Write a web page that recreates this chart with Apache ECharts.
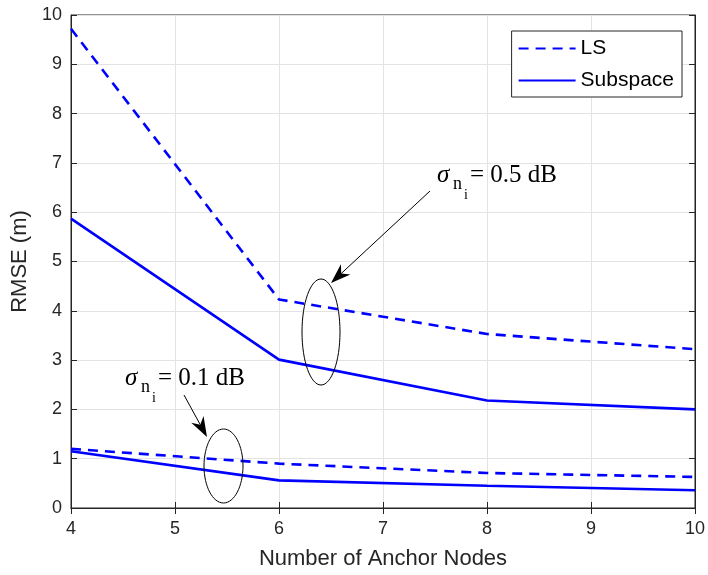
<!DOCTYPE html>
<html>
<head>
<meta charset="utf-8">
<script src="https://cdn.jsdelivr.net/npm/echarts@6/dist/echarts.min.js"></script>
<style>
  html, body { margin: 0; padding: 0; background: #fff; }
  #main { width: 708px; height: 575px; }
</style>
</head>
<body>
<div id="main"></div>
<script>
var anchors = [4, 6, 8, 10];
// sigma = 0.5 dB
var ls_05 = [9.72, 4.23, 3.53, 3.22];
var sub_05 = [5.87, 3.01, 2.18, 2.0];
// sigma = 0.1 dB
var ls_01 = [1.2, 0.9, 0.71, 0.63];
var sub_01 = [1.15, 0.56, 0.45, 0.36];

var dom = document.getElementById('main');
var myChart = echarts.init(dom);

function pairs(xs, ys) {
    var out = [];
    for (var i = 0; i < xs.length; i++) out.push([xs[i], ys[i]]);
    return out;
}

var axisFont = { fontFamily: 'Liberation Sans', fontSize: 18, color: '#262626' };

function lineSeries(name, data, dashed) {
    return {
        name: name,
        type: 'line',
        data: pairs(anchors, data),
        symbol: 'none',
        lineStyle: { color: '#0000ff', width: 2.6, type: dashed ? [10, 7] : 'solid' },
        itemStyle: { color: '#0000ff' },
        z: 5
    };
}

var option = {
    animation: false,
    grid: { left: 71, right: 11, top: 15, bottom: 66, show: true, borderColor: '#262626', borderWidth: 1 },
    legend: {
        orient: 'vertical',
        right: 26,
        top: 31,
        data: ['LS', 'Subspace'],
        backgroundColor: '#fff',
        borderColor: '#262626',
        borderWidth: 1,
        padding: [7, 8, 6, 6],
        itemGap: 11,
        itemWidth: 57,
        itemHeight: 14,
        itemStyle: { opacity: 0 },
        textStyle: { fontFamily: 'Liberation Sans', fontSize: 21, color: '#000' }
    },
    xAxis: [{
        type: 'value', min: 4, max: 10, interval: 1,
        name: 'Number of Anchor Nodes', nameLocation: 'middle', nameGap: 40,
        nameTextStyle: { fontFamily: 'Liberation Sans', fontSize: 22, color: '#262626' },
        axisLine: { show: true, lineStyle: { color: '#262626' } },
        axisTick: { show: true, inside: true, length: 6, lineStyle: { color: '#262626' } },
        axisLabel: Object.assign({ margin: 12 }, axisFont),
        splitLine: { show: true, lineStyle: { color: '#e3e3e3', width: 1 } }
    }, {
        type: 'value', min: 4, max: 10, interval: 1, position: 'top',
        axisLine: { show: true, lineStyle: { color: '#262626' } },
        axisTick: { show: true, inside: true, length: 6, lineStyle: { color: '#262626' } },
        axisLabel: { show: false }, splitLine: { show: false }
    }],
    yAxis: [{
        type: 'value', min: 0, max: 10, interval: 1,
        name: 'RMSE (m)', nameLocation: 'middle', nameGap: 37,
        nameTextStyle: { fontFamily: 'Liberation Sans', fontSize: 22, color: '#262626' },
        axisLine: { show: true, lineStyle: { color: '#262626' } },
        axisTick: { show: true, inside: true, length: 6, lineStyle: { color: '#262626' } },
        axisLabel: Object.assign({ margin: 9 }, axisFont),
        splitLine: { show: true, lineStyle: { color: '#e3e3e3', width: 1 } }
    }, {
        type: 'value', min: 0, max: 10, interval: 1, position: 'right',
        axisLine: { show: true, lineStyle: { color: '#262626' } },
        axisTick: { show: true, inside: true, length: 6, lineStyle: { color: '#262626' } },
        axisLabel: { show: false }, splitLine: { show: false }
    }],
    series: [
        lineSeries('LS', ls_05, true),
        lineSeries('Subspace', sub_05, false),
        lineSeries('LS', ls_01, true),
        lineSeries('Subspace', sub_01, false)
    ]
};
myChart.setOption(option);

// annotations (ellipses, arrows, sigma labels)
function arrow(x1, y1, x2, y2) {
    var ang = Math.atan2(y2 - y1, x2 - x1);
    var L = 20, W = 7;
    var bx = x2 - L * Math.cos(ang), by = y2 - L * Math.sin(ang);
    var mx = x2 - 0.7 * L * Math.cos(ang), my = y2 - 0.7 * L * Math.sin(ang);
    var px = -Math.sin(ang) * W, py = Math.cos(ang) * W;
    return [
        { type: 'line', shape: { x1: x1, y1: y1, x2: mx, y2: my }, style: { stroke: '#000', lineWidth: 1 }, z: 20 },
        { type: 'polygon', shape: { points: [[x2, y2], [bx + px, by + py], [mx, my], [bx - px, by - py]] }, style: { fill: '#000' }, z: 20 }
    ];
}

function sigmaLabel(x, base, val) {
    return [
        { type: 'text', x: x, y: base, style: { text: 'σ', font: 'italic 25px "Liberation Serif"', fill: '#000', textVerticalAlign: 'alphabetic' }, z: 20 },
        { type: 'text', x: x + 16, y: base + 12, style: { text: 'n', font: '18px "Liberation Serif"', fill: '#000', textVerticalAlign: 'alphabetic' }, z: 20 },
        { type: 'text', x: x + 27, y: base + 25, style: { text: 'i', font: '14px "Liberation Serif"', fill: '#000', textVerticalAlign: 'alphabetic' }, z: 20 },
        { type: 'text', x: x + 33, y: base, style: { text: '= ' + val + ' dB', font: '25px "Liberation Serif"', fill: '#000', textVerticalAlign: 'alphabetic' }, z: 20 }
    ];
}

var g = [];
g.push({ type: 'ellipse', shape: { cx: 321, cy: 332, rx: 19, ry: 53 }, style: { fill: null, stroke: '#000', lineWidth: 1 }, z: 20 });
g.push({ type: 'ellipse', shape: { cx: 223.5, cy: 466, rx: 19.5, ry: 37 }, style: { fill: null, stroke: '#000', lineWidth: 1 }, z: 20 });
g = g.concat(arrow(430, 191, 331, 283));
g = g.concat(arrow(184, 395, 207, 437));
g = g.concat(sigmaLabel(437, 163, '0.5'));
g = g.concat(sigmaLabel(125, 366, '0.1'));
myChart.setOption({ graphic: g });
</script>
</body>
</html>
